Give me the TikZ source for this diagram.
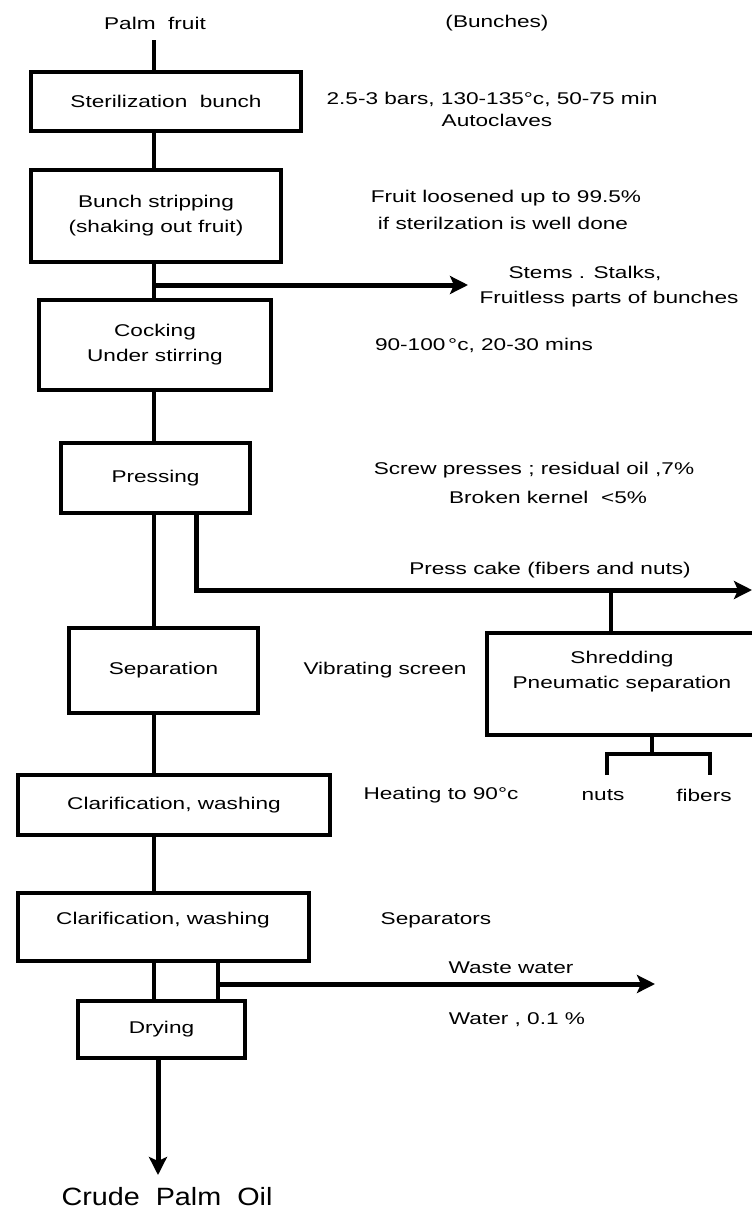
\documentclass[tikz,border=0pt]{standalone}
\usepackage{fontspec}
\setmainfont[FakeStretch=1.33]{Liberation Sans}
\newfontfamily\bigfont[FakeStretch=1.15]{Liberation Sans}
\usetikzlibrary{arrows.meta}
\begin{document}
\begin{tikzpicture}[x=1pt,y=-1pt,
  every node/.style={font=\fontsize{17}{25}\selectfont, inner sep=0pt},
  box/.style={draw, line width=3.5pt, align=center},
  conn/.style={line width=3.5pt},
  flow/.style={line width=5pt, -{Stealth[length=18pt,width=18pt,inset=4pt]}}]
\fill[white] (0,0) rectangle (752,1213);
\useasboundingbox (0,0) rectangle (752,1213);

% main column
\node (palm) at (155,23) {Palm\ \ fruit};
\node (bunches) at (497,23) {(Bunches)};
\node[box, minimum width=270pt, minimum height=59pt] (b1) at (166,101.5) {Sterilization\ \ bunch};
\node[box, minimum width=250pt, minimum height=92pt] (b2) at (156,216) {Bunch stripping\\(shaking out fruit)};
\node[box, minimum width=232pt, minimum height=90pt] (b3) at (155,345) {Cocking\\Under stirring};
\node[box, minimum width=189pt, minimum height=70pt] (b4) at (155.5,478) {Pressing};
\node[box, minimum width=189pt, minimum height=85pt] (b5) at (163.5,670.5) {Separation};
\node[box, minimum width=312pt, minimum height=60pt] (b6) at (174,805) {Clarification,\ washing};
\node[box, minimum width=291pt, minimum height=68pt] (b7) at (163.5,927) {};
\node (b7t) at (163,920) {Clarification,\ washing};
\node[box, minimum width=167pt, minimum height=57pt] (b8) at (161.5,1029.5) {Drying};
\node[font=\bigfont\fontsize{25}{30}\selectfont] (oil) at (167,1197) {Crude\ \ Palm\ \ Oil};

% side box
\node[box, minimum width=273pt, minimum height=102pt] (sh) at (623.5,684) {};
\node[align=center] (sht) at (622,672) {Shredding\\Pneumatic separation};
\node (nuts) at (603,795) {nuts};
\node (fibers) at (704,795) {fibers};

% side texts
\node (t1a) at (492,99) {2.5-3 bars, 130-135°c, 50-75 min};
\node (t1b) at (497,120) {Autoclaves};
\node (t2a) at (506,198) {Fruit loosened up to 99.5\%};
\node (t2b) at (503,223) {if sterilzation is well done};
\node (t3a) at (585,273) {Stems . Stalks,};
\node (t3b) at (609,299) {Fruitless parts of bunches};
\node (t4) at (484,345) {90-100\,°c, 20-30 mins};
\node (t5a) at (534,470) {Screw presses ; residual oil ,7\%};
\node (t5b) at (548,497) {Broken kernel\ \ <5\%};
\node (t6) at (550,570) {Press cake (fibers and nuts)};
\node (t7) at (385,670) {Vibrating screen};
\node (t8) at (441,795) {Heating to 90°c};
\node (t9) at (436,920) {Separators};
\node (t10) at (511,968) {Waste water};
\node (t11) at (517,1020) {Water , 0.1 \%};

% coordinates
\coordinate (sp) at (154,0);
\coordinate (ptop) at (154,40);
\coordinate (j1) at (154,285);
\coordinate (stemend) at (468,285);
\coordinate (pcx) at (196,0);
\coordinate (pcend) at (752,590);
\coordinate (shx) at (611,590);
\coordinate (sx) at (652,0);
\coordinate (sj) at (652,754);
\coordinate (nl) at (607,775);
\coordinate (fl) at (710,775);
\coordinate (wx) at (218,0);
\coordinate (wj) at (218,984);
\coordinate (wend) at (655,984);
\coordinate (fx) at (158,0);
\coordinate (oilend) at (158,1175);

% connectors
\draw[conn] (ptop) -- (b1.north -| sp);
\draw[conn] (b1.south -| sp) -- (b2.north -| sp);
\draw[conn] (b2.south -| sp) -- (b3.north -| sp);
\draw[flow] (j1) -- (stemend);
\draw[conn] (b3.south -| sp) -- (b4.north -| sp);
\draw[conn] (b4.south -| sp) -- (b5.north -| sp);
\draw[flow] (b4.south -| pcx) |- (pcend);
\draw[conn] (shx) -- (sh.north -| shx);
\draw[conn] (sh.south -| sx) -- (sj);
\draw[conn] (nl) |- (sj) -| (fl);
\draw[conn] (b5.south -| sp) -- (b6.north -| sp);
\draw[conn] (b6.south -| sp) -- (b7.north -| sp);
\draw[conn] (b7.south -| sp) -- (b8.north -| sp);
\draw[conn] (b7.south -| wx) -- (b8.north -| wx);
\draw[flow] (wj) -- (wend);
\draw[flow] (b8.south -| fx) -- (oilend);
\end{tikzpicture}
\end{document}
